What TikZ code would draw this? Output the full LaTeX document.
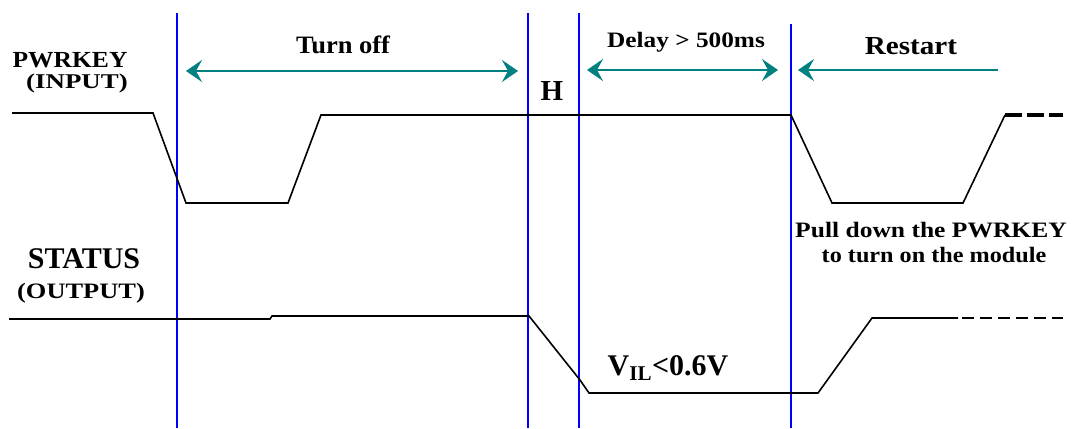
\documentclass[tikz,border=0pt]{standalone}
\usepackage{fontspec}
\setmainfont{Liberation Serif}
\usetikzlibrary{arrows.meta}
\definecolor{dimteal}{RGB}{0,128,128}
\newcommand\setfs[1]{\fontsize{#1}{#1}\selectfont}
\begin{document}
\begin{tikzpicture}[x=1pt,y=-1pt,
  txt/.style={font=\bfseries, inner sep=0pt, anchor=base},
  sig/.style={line width=1.6pt, line join=miter},
  marker/.style={draw=blue, line width=2pt},
  span/.style={draw=dimteal, line width=2pt},
  dimboth/.style={arrows={Stealth[length=16pt,width=22pt,inset=6pt]-Stealth[length=16pt,width=22pt,inset=6pt]}},
  dimleft/.style={arrows={Stealth[length=16pt,width=22pt,inset=6pt]-}}
]
\useasboundingbox (0,0) rectangle (1075,428);

% vertical markers
\coordinate (m1t) at (177,13);  \coordinate (m1b) at (177,428);
\coordinate (m2t) at (528,13);  \coordinate (m2b) at (528,428);
\coordinate (m3t) at (579,13);  \coordinate (m3b) at (579,428);
\coordinate (m4t) at (791,24);  \coordinate (m4b) at (791,428);
\draw[marker] (m1t) -- (m1b);
\draw[marker] (m2t) -- (m2b);
\draw[marker] (m3t) -- (m3b);
\draw[marker] (m4t) -- (m4b);

% PWRKEY waveform
\draw[sig] (12,113) -- (153,113) -- (186,203) -- (288,203) -- (321,115) -- (791,115)
  -- (832,203) -- (963,203) -- (1005,115);
\draw[line width=3.4pt, dash pattern=on 17pt off 5pt] (1005,115) -- (1063,115);

% STATUS waveform
\draw[sig] (9,319) -- (270,319) -- (272,316) -- (529,316) -- (580,380) -- (589,393)
  -- (818,393) -- (872,318) -- (958,318);
\draw[sig, dash pattern=on 12pt off 6pt] (962,318) -- (1063,318);

% span arrows
\coordinate (a1) at (186,71); \coordinate (a2) at (518,71);
\coordinate (b1) at (587,70); \coordinate (b2) at (778,70);
\coordinate (c1) at (798,70); \coordinate (c2) at (998,70);
\draw[span, dimboth] (a1) -- (a2);
\draw[span, dimboth] (b1) -- (b2);
\draw[span, dimleft] (c1) -- (c2);

% labels
\node[txt, xscale=1.11] (pk) at (70,67) {\setfs{23}PWRKEY};
\node[txt, xscale=1.28] (pki) at (77,88) {\setfs{21}(INPUT)};
\node[txt] (st) at (84,268) {\setfs{30}STATUS};
\node[txt, xscale=1.2] (sto) at (81,298) {\setfs{22}(OUTPUT)};
\node[txt, xscale=1.06] (toff) at (343,53) {\setfs{25}Turn off};
\node[txt, xscale=1.15] (dly) at (686,48) {\setfs{22}Delay > 500ms};
\node[txt, xscale=1.12] (rst) at (911,55) {\setfs{26}Restart};
\node[txt] (hh) at (552,100) {\setfs{29}H};
\node[txt] (vil) at (668,375) {\setfs{30}V\textsubscript{IL}<0.6V};
\node[txt, xscale=1.16] (pd1) at (931,237) {\setfs{22}Pull down the PWRKEY};
\node[txt, xscale=1.10] (pd2) at (934,262) {\setfs{22}to turn on the module};
\end{tikzpicture}
\end{document}
